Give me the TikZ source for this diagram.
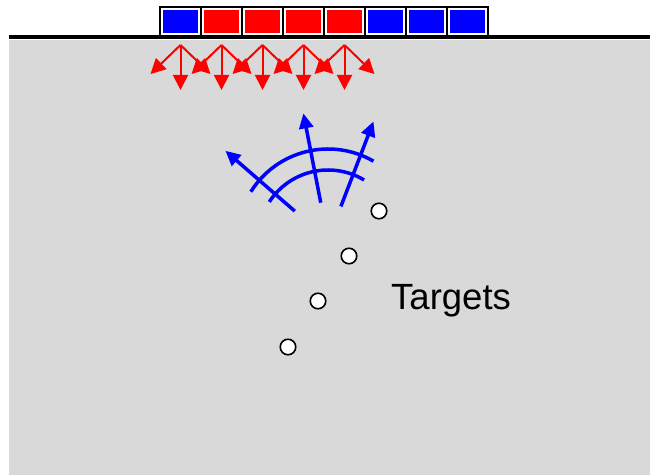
\documentclass[tikz,border=0pt]{standalone}
\usepackage{fontspec}
\setmainfont{Liberation Sans}
\usetikzlibrary{arrows.meta}
\begin{document}
\begin{tikzpicture}[x=1pt, y=1pt,
cell/.style={draw, line width=1.5pt, fill=white, minimum width=41pt, minimum height=29pt, inner sep=0pt, outer sep=0pt},
pulse/.style={red, line width=2pt, -{Triangle[length=15pt, width=15pt]}},
ray/.style={blue, line width=3.5pt, -{Triangle[length=15pt, width=14pt]}},
front/.style={blue, line width=3.5pt},
target/.style={circle, draw, line width=1.6pt, fill=white, minimum size=15.5pt, inner sep=0pt}]
    \useasboundingbox (0,0) rectangle (650,475);
    \fill [gray!30] (9,0) rectangle (650,435);
    \draw [line width=3.5pt] (9,438) -- (650,438);
    \foreach \col [count=\i] in {blue,red,red,red,red,blue,blue,blue} {
        \node [cell] (c\i) at (139.5+41*\i, 453.5) {};
        \fill [\col] ([shift={(3pt,3pt)}]c\i.south west) rectangle ([shift={(-3pt,-3pt)}]c\i.north east);
    }
    \foreach \i in {1,...,5} {
        \coordinate (s\i) at ([yshift=-9pt]c\i.south);
        \draw [pulse] (s\i) -- ++(0,-45);
        \draw [pulse] (s\i) -- ++(-30,-29);
        \draw [pulse] (s\i) -- ++(30,-29);
    }
    \coordinate (o) at (328,235);
    \draw [front] (o) ++(59:70) arc[start angle=59, end angle=147, radius=70];
    \draw [front] (o) ++(60:91) arc[start angle=60, end angle=148, radius=91];
    \foreach \a/\s/\l in {139/44/92, 101/38/91, 69/36/91}
        \draw [ray] (o) ++(\a:\s) -- ++(\a:\l);
    \foreach \x/\y [count=\i] in {379/264, 349/219, 318/174, 288/128}
        \node [target] (t\i) at (\x,\y) {};
    \node [anchor=base west, inner sep=0pt, font=\fontsize{36.5}{44}\selectfont] (label) at (391,166) {Targets};
\end{tikzpicture}
\end{document}
